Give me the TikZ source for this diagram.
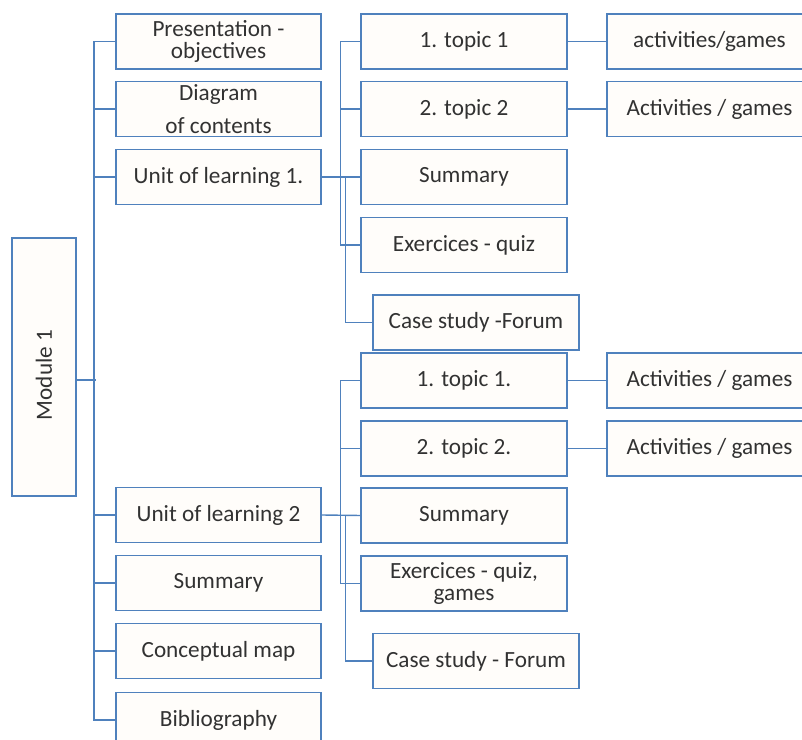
\documentclass[tikz,border=0pt]{standalone}
\usepackage{fontspec}
\setmainfont{Carlito}
\definecolor{boxblue}{RGB}{79,129,189}
\definecolor{boxfill}{RGB}{255,253,250}
\definecolor{txtgray}{RGB}{50,50,50}
\begin{document}
\begin{tikzpicture}[x=0.025cm,y=-0.025cm,
      box/.style={draw=boxblue,fill=boxfill,line width=1.4pt,rectangle,
        minimum width=5.125cm,minimum height=1.375cm,inner sep=2pt,
        text=txtgray,align=center,font=\fontsize{16.5}{16}\selectfont},
      conn/.style={draw=boxblue,line width=1pt}]
    \useasboundingbox (0,0) rectangle (802,740);
    \clip (0,0) rectangle (802,740);
    % module
    \node[box,minimum width=1.6cm,minimum height=6.45cm] at (44,367) (M0)
      {\rotatebox{90}{Module 1\hspace*{0.4cm}}};
    % first level
    \node[box] at (218.5,41.5) (L0) {Presentation -\\objectives};
    \node[box] at (218.5,109) (L1) {Diagram\\[7pt]of contents};
    \node[box] at (218.5,177) (L2) {Unit of learning 1.};
    \node[box] at (218.5,515) (L3) {Unit of learning 2};
    \node[box] at (218.5,583) (L4) {Summary};
    \node[box] at (218.5,651) (L5) {Conceptual map};
    \node[box] at (218.5,720) (L6) {Bibliography};
    % unit 1
    \node[box] at (464,41.5) (P1) {1. topic 1};
    \node[box] at (464,109) (P2) {2. topic 2};
    \node[box] at (464,177) (P3) {Summary};
    \node[box] at (464,245) (P4) {Exercices - quiz};
    \node[box] at (476,322.5) (P5) {Case study -Forum};
    \node[box] at (709.5,41.5) (R1) {activities/games};
    \node[box] at (709.5,109) (R2) {Activities / games};
    % unit 2
    \node[box] at (464,380.5) (Q1) {1. topic 1.};
    \node[box] at (464,448.5) (Q2) {2. topic 2.};
    \node[box] at (464,515.5) (Q3) {Summary};
    \node[box] at (464,583.5) (Q4) {Exercices - quiz,\\games};
    \node[box] at (476,661) (Q5) {Case study - Forum};
    \node[box] at (709.5,380.5) (S1) {Activities / games};
    \node[box] at (709.5,448.5) (S2) {Activities / games};
    % lines
    \draw[conn] ([yshift=-0.325cm]M0.east) -- ++(19,0);
    \draw[conn] (L0.west) -| ([xshift=-0.525cm]L6.west) -- (L6.west);
    \foreach \n in {L1,L2,L3,L4,L5} \draw[conn] (\n.west) -- ++(-21,0);
    \draw[conn] (L2.east) -- (P3.west);
    \draw[conn] (P1.west) -| ([xshift=-0.5cm]P4.west) -- (P4.west);
    \draw[conn] (P2.west) -- ++(-20,0);
    \draw[conn] ([xshift=-0.375cm]P3.west) |- (P5.west);
    \draw[conn] (L3.east) -- (Q3.west);
    \draw[conn] (Q1.west) -| ([xshift=-0.5cm]Q4.west) -- (Q4.west);
    \draw[conn] (Q2.west) -- ++(-20,0);
    \draw[conn] ([xshift=-0.375cm]Q3.west) |- (Q5.west);
    \draw[conn] (P1.east) -- (R1.west);
    \draw[conn] (P2.east) -- (R2.west);
    \draw[conn] (Q1.east) -- (S1.west);
    \draw[conn] (Q2.east) -- (S2.west);
  \end{tikzpicture}
\end{document}
